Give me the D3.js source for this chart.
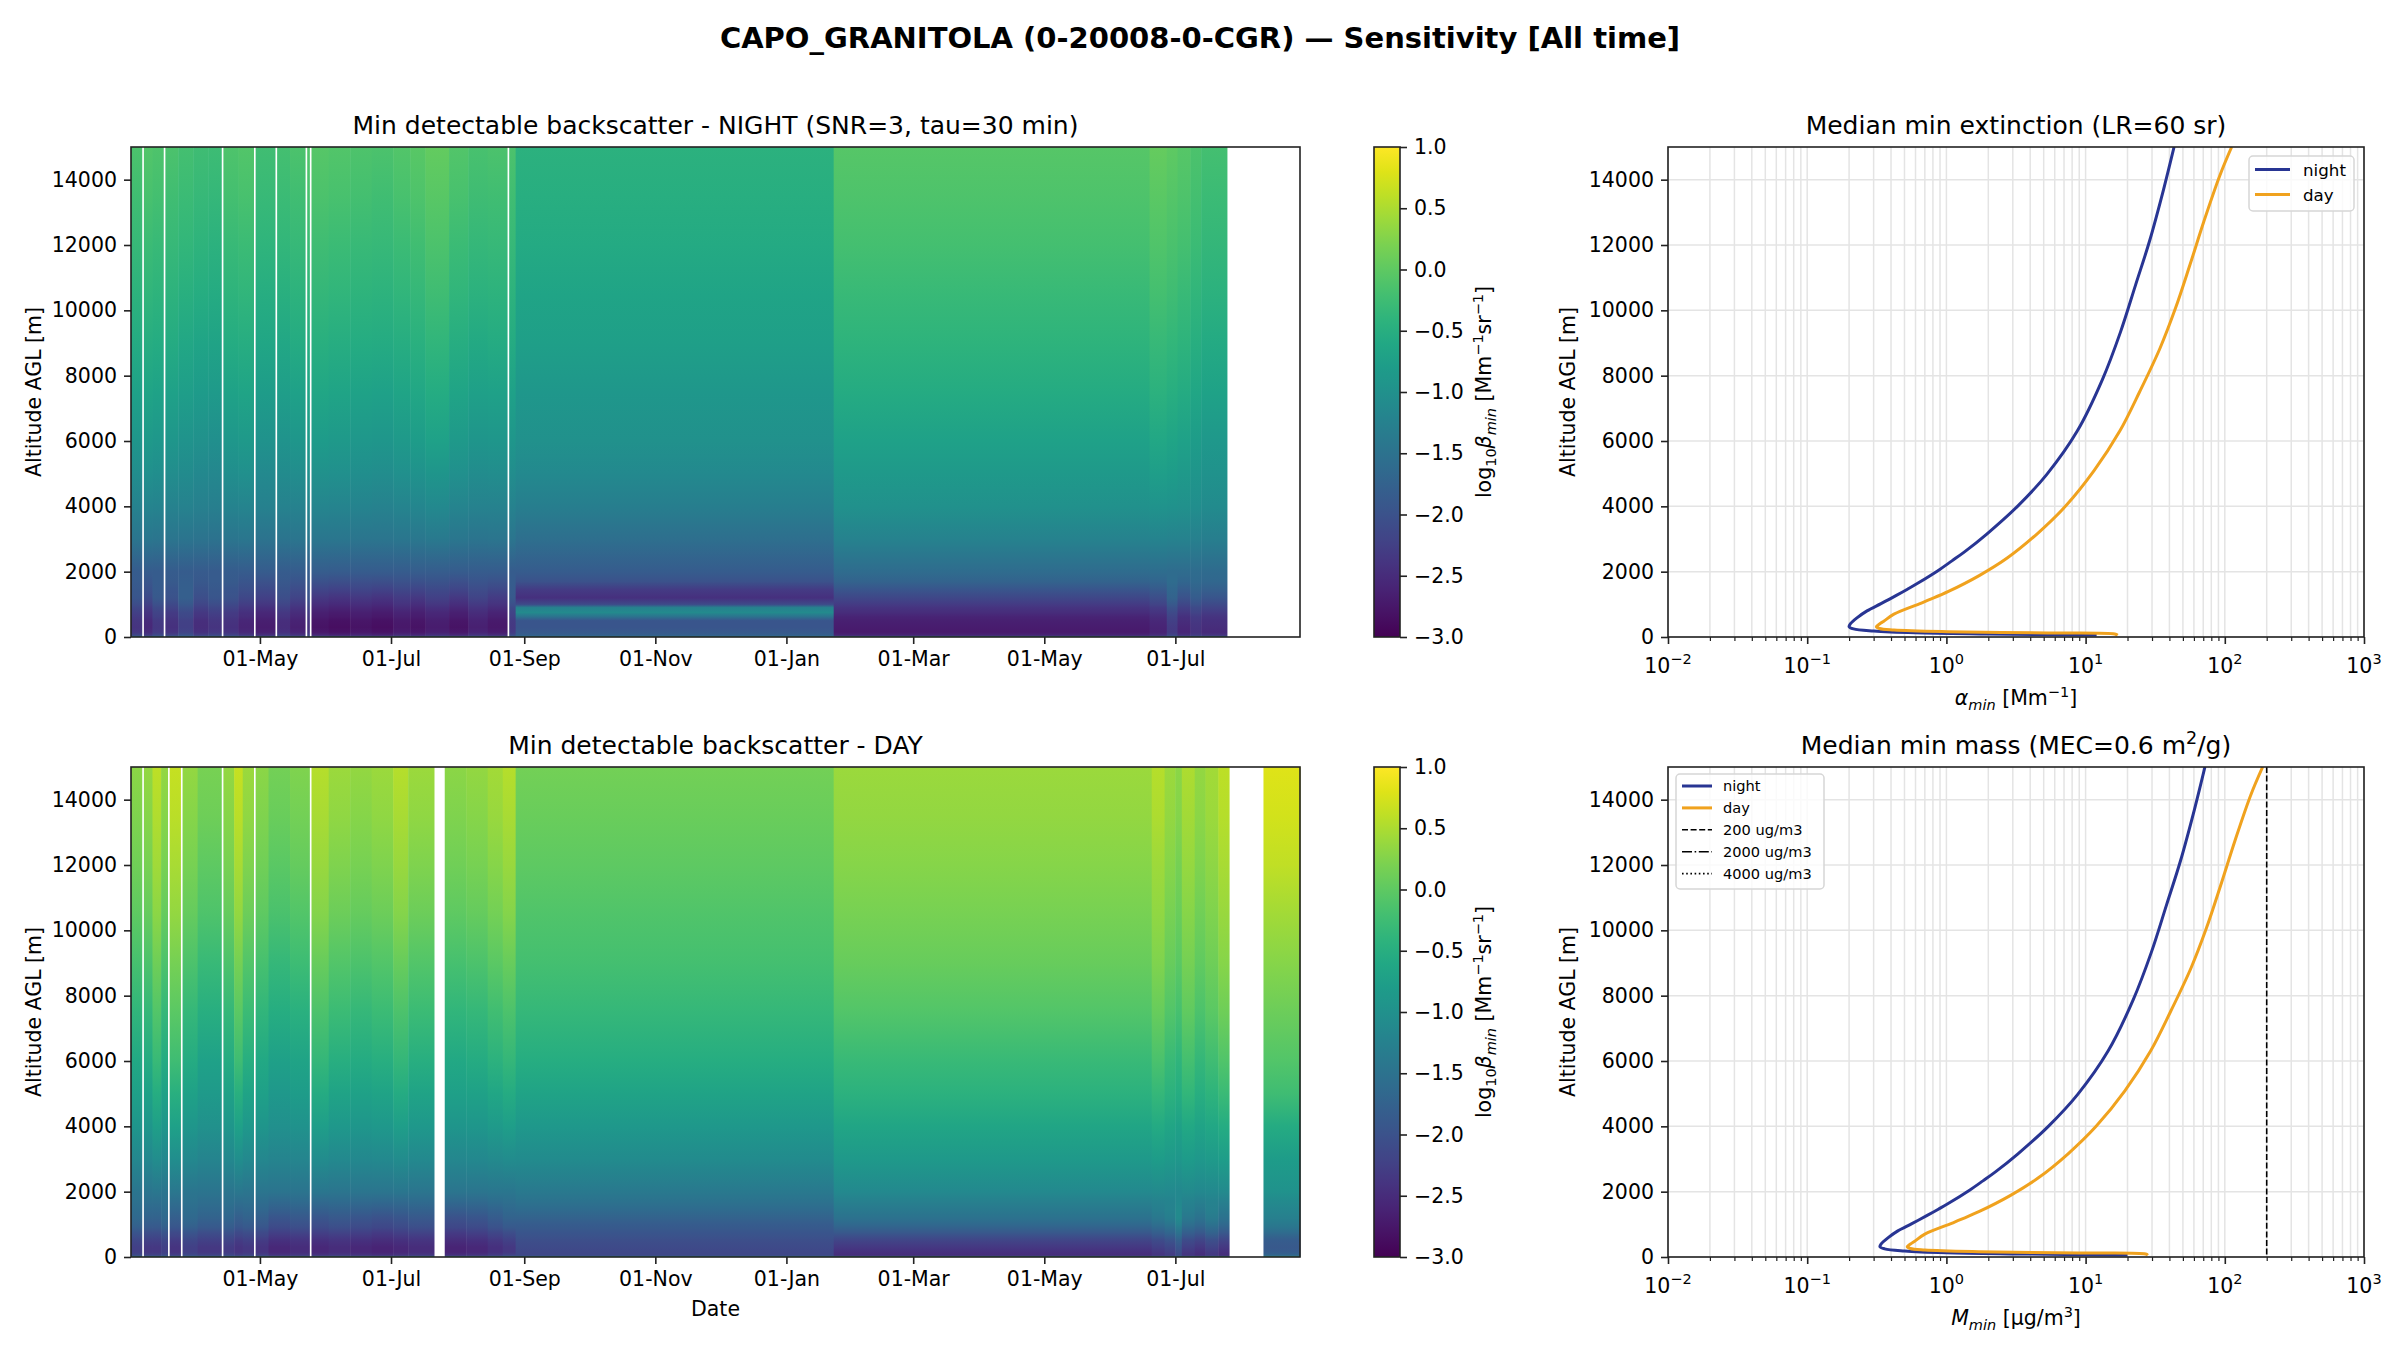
<!DOCTYPE html>
<html>
<head>
<meta charset="utf-8">
<script src="https://cdn.jsdelivr.net/npm/d3@7"></script>
<style>
  body { margin: 0; background: #fff; }
  svg { font-family: "DejaVu Sans", sans-serif; }
</style>
</head>
<body>
<div id="chart"></div>
<script>
// ---- data ----
var dateStart = "2024-03-02", dateEnd = "2025-08-28";

// altitude levels [m] at which the log10(beta_min) profiles were read
var altLevels = [0, 50, 150, 300, 500, 620, 750, 900, 1000, 1200, 1450, 1700, 2000,
                 3000, 4000, 5000, 6000, 7500, 9000, 10500, 12000, 13500, 15000];

// night profiles: A = Mar-Aug 2024, B = Sep 2024-Jan 2025, C = Jan-Jul 2025
var nightA = [-0.9, -2.5, -2.7, -2.75, -2.72, -2.65, -2.6, -2.5, -2.42, -2.3, -2.15, -2.0, -1.85,
              -1.45, -1.22, -1.05, -0.9, -0.72, -0.56, -0.43, -0.32, -0.22, -0.14];
var nightB = [-0.9, -1.8, -1.9, -1.95, -1.95, -1.5, -1.1, -1.25, -2.1, -2.45, -2.3, -2.0, -1.85,
              -1.55, -1.3, -1.12, -1.0, -0.88, -0.76, -0.66, -0.57, -0.5, -0.45];
var nightC = [-0.9, -2.6, -2.72, -2.7, -2.65, -2.6, -2.5, -2.4, -2.3, -2.15, -1.95, -1.75, -1.6,
              -1.25, -1.0, -0.85, -0.72, -0.55, -0.42, -0.3, -0.2, -0.12, -0.05];
// day profiles: A, B, C as above, D = Aug 2025
var dayA = [-0.6, -2.3, -2.45, -2.45, -2.35, -2.25, -2.15, -2.0, -1.95, -1.85, -1.72, -1.6, -1.45,
            -1.15, -0.92, -0.75, -0.6, -0.38, -0.18, 0.0, 0.13, 0.23, 0.3];
var dayB = [-0.8, -2.15, -2.15, -2.1, -2.05, -2.0, -1.95, -1.88, -1.85, -1.75, -1.62, -1.5, -1.38,
            -1.08, -0.86, -0.68, -0.52, -0.33, -0.2, -0.1, 0.0, 0.08, 0.15];
var dayC = [-0.7, -2.5, -2.45, -2.35, -2.2, -2.05, -1.9, -1.75, -1.65, -1.5, -1.38, -1.28, -1.12,
            -0.85, -0.65, -0.45, -0.3, -0.08, 0.07, 0.18, 0.27, 0.35, 0.4];
var dayD = [-0.3, -1.7, -1.85, -1.9, -1.85, -1.75, -1.6, -1.45, -1.38, -1.28, -1.18, -1.1, -0.98,
            -0.8, -0.55, -0.25, -0.08, 0.1, 0.28, 0.45, 0.62, 0.72, 0.8];

// time bins: [start, end, profile, shift aloft, shift near ground]; missing days are left out
var nightBins = [
  ["2024-03-02", "2024-03-07", "A", 0.0, 0.35],
  ["2024-03-08", "2024-03-12", "A", 0.05, 0.2],
  ["2024-03-12", "2024-03-17", "A", 0.02, 0.4],
  ["2024-03-18", "2024-03-24", "A", 0.0, 0.3],
  ["2024-03-24", "2024-03-31", "A", -0.05, 0.5],
  ["2024-03-31", "2024-04-07", "A", -0.1, 0.25],
  ["2024-04-07", "2024-04-13", "A", -0.12, 0.35],
  ["2024-04-14", "2024-04-21", "A", 0.02, 0.3],
  ["2024-04-21", "2024-04-28", "A", 0.05, 0.15],
  ["2024-04-29", "2024-05-08", "A", -0.08, 0.05],
  ["2024-05-09", "2024-05-15", "A", -0.05, 0.25],
  ["2024-05-15", "2024-05-22", "A", 0.0, 0.1],
  ["2024-05-23", "2024-05-24", "A", 0.05, 0.3],
  ["2024-05-25", "2024-06-02", "A", 0.08, -0.05],
  ["2024-06-02", "2024-06-12", "A", 0.05, -0.1],
  ["2024-06-12", "2024-06-22", "A", 0.02, -0.05],
  ["2024-06-22", "2024-07-02", "A", 0.0, -0.1],
  ["2024-07-02", "2024-07-10", "A", 0.05, 0.0],
  ["2024-07-10", "2024-07-17", "A", 0.1, -0.05],
  ["2024-07-17", "2024-07-28", "A", 0.18, 0.05],
  ["2024-07-28", "2024-08-06", "A", 0.05, -0.05],
  ["2024-08-06", "2024-08-15", "A", -0.02, 0.1],
  ["2024-08-15", "2024-08-24", "A", 0.0, 0.0],
  ["2024-08-25", "2024-08-28", "A", 0.0, 0.4],
  ["2024-08-28", "2025-01-23", "B", 0.0, 0.0],
  ["2025-01-23", "2025-06-19", "C", 0.0, 0.0],
  ["2025-06-19", "2025-06-27", "C", 0.1, 0.1],
  ["2025-06-27", "2025-07-02", "C", 0.05, 0.4],
  ["2025-07-02", "2025-07-08", "C", 0.0, 0.15],
  ["2025-07-08", "2025-07-13", "C", -0.08, 0.3],
  ["2025-07-13", "2025-07-25", "C", -0.15, 0.2]
];
var dayBins = [
  ["2024-03-02", "2024-03-07", "A", 0.0, 0.2],
  ["2024-03-08", "2024-03-12", "A", 0.05, 0.1],
  ["2024-03-12", "2024-03-16", "A", 0.3, 0.1],
  ["2024-03-16", "2024-03-19", "A", 0.05, 0.2],
  ["2024-03-20", "2024-03-25", "A", 0.35, 0.05],
  ["2024-03-26", "2024-04-02", "A", 0.05, 0.2],
  ["2024-04-02", "2024-04-13", "A", -0.12, 0.1],
  ["2024-04-14", "2024-04-19", "A", 0.05, 0.15],
  ["2024-04-19", "2024-04-23", "A", 0.35, 0.05],
  ["2024-04-23", "2024-04-28", "A", 0.1, 0.1],
  ["2024-04-29", "2024-05-05", "A", 0.0, 0.05],
  ["2024-05-05", "2024-05-15", "A", -0.15, -0.1],
  ["2024-05-15", "2024-05-24", "A", -0.08, -0.05],
  ["2024-05-25", "2024-06-02", "A", 0.25, -0.1],
  ["2024-06-02", "2024-06-12", "A", 0.1, -0.05],
  ["2024-06-12", "2024-06-22", "A", 0.05, -0.1],
  ["2024-06-22", "2024-07-02", "A", 0.1, -0.15],
  ["2024-07-02", "2024-07-09", "A", 0.25, -0.1],
  ["2024-07-09", "2024-07-21", "A", 0.1, -0.05],
  ["2024-07-26", "2024-08-05", "A", 0.0, -0.15],
  ["2024-08-05", "2024-08-15", "A", 0.05, -0.1],
  ["2024-08-15", "2024-08-22", "A", 0.15, 0.0],
  ["2024-08-22", "2024-08-28", "A", 0.25, 0.1],
  ["2024-08-28", "2025-01-23", "B", 0.0, 0.0],
  ["2025-01-23", "2025-06-20", "C", 0.0, 0.0],
  ["2025-06-20", "2025-06-26", "C", 0.15, 0.1],
  ["2025-06-26", "2025-07-01", "C", 0.0, 0.2],
  ["2025-07-01", "2025-07-04", "C", -0.1, 0.4],
  ["2025-07-04", "2025-07-10", "C", 0.1, 0.1],
  ["2025-07-10", "2025-07-15", "C", -0.05, 0.0],
  ["2025-07-15", "2025-07-21", "C", 0.05, 0.15],
  ["2025-07-21", "2025-07-26", "C", 0.2, 0.0],
  ["2025-08-11", "2025-08-28", "D", 0.0, 0.0]
];

// median profiles (altitude [m] / value)
var extNightAlt = [60, 95, 130, 185, 250, 316, 400, 593, 800, 1022, 1273, 1463, 1636, 2061, 2331,
                   2606, 3152, 4000, 4970, 6303, 7879, 9333, 10788, 12121, 13697, 15000];
var extNightVal = [12, 2.0, 0.6, 0.3, 0.215, 0.2, 0.204, 0.229, 0.269, 0.339, 0.437, 0.525, 0.617, 0.891, 1.096,
                   1.349, 1.95, 3.24, 5.25, 8.71, 13.2, 17.8, 22.9, 28.8, 36.3, 43.2];
var extDayAlt = [55, 92, 123, 163, 214, 260, 316, 400, 485, 700, 1030, 1156, 1394, 1879, 2424,
                 3152, 4000, 5091, 6303, 7515, 8848, 10061, 11394, 12727, 14121, 15000];
var extDayVal = [17, 16.2, 5.37, 1.02, 0.42, 0.33, 0.314, 0.331, 0.355, 0.42, 0.653, 0.771, 1.035, 1.72, 2.75,
                 4.47, 7.16, 11.5, 17.6, 24.5, 34.3, 44.2, 56.2, 70.8, 92, 112];
var massNightVal = [20, 3.3, 1.0, 0.5, 0.36, 0.333, 0.34, 0.382, 0.448, 0.565, 0.728, 0.875, 1.03, 1.485, 1.83,
                    2.25, 3.25, 5.4, 8.75, 14.5, 22.0, 29.7, 38.2, 48.0, 60.5, 72];
var massDayVal = [28, 27, 8.95, 1.7, 0.7, 0.55, 0.523, 0.552, 0.592, 0.7, 1.09, 1.285, 1.725, 2.87, 4.58,
                  7.45, 11.9, 19.2, 29.3, 40.8, 57.2, 73.7, 93.7, 118, 153, 187];
var massRefVal = [200, 2000, 4000];
var massRefName = ["200 ug/m3", "2000 ug/m3", "4000 ug/m3"];

var altTicks = [0, 2000, 4000, 6000, 8000, 10000, 12000, 14000];
var cbarTicks = [-3, -2.5, -2, -1.5, -1, -0.5, 0, 0.5, 1];
var logTicks = [1e-2, 1e-1, 1e0, 1e1, 1e2, 1e3];
var logExp = ["\u22122", "\u22121", "0", "1", "2", "3"];

// ---- layout ----
var W = 2400, H = 1350;
var FONT = "DejaVu Sans";
var heatL = 131, heatR = 1300, cbL = 1374, cbR = 1400, lineL = 1668, lineR = 2364;
var rows = [{top: 147, bottom: 637}, {top: 767, bottom: 1257}];
var nightColor = "#283593", dayColor = "#f0a21e";

var profiles = {night: {A: nightA, B: nightB, C: nightC}, day: {A: dayA, B: dayB, C: dayC, D: dayD}};

// how much of a bin's shift reaches each altitude (smooth hand-over near 1.5-2 km)
var upWeight = d3.scaleLinear().domain([1500, 6000]).range([0, 1]).clamp(true);
var lowWeight = d3.scaleLinear().domain([1200, 2000]).range([1, 0]).clamp(true);

var svg = d3.select("#chart").append("svg")
  .attr("width", W).attr("height", H)
  .attr("font-family", FONT);
var defs = svg.append("defs");

var parse = d3.utcParse("%Y-%m-%d");
var color = d3.scaleSequential(d3.interpolateViridis).domain([-3, 1]).clamp(true);
var xTime = d3.scaleUtc().domain([parse(dateStart), parse(dateEnd)]).range([heatL, heatR]);

function styleAxis(g, size) {
  g.attr("font-family", FONT).attr("font-size", size || 20.5);
  g.select(".domain").remove();
  g.selectAll(".tick line").attr("stroke", "#222").attr("stroke-width", 1.6);
  g.selectAll(".tick text").attr("fill", "#000");
}

svg.append("text")
  .attr("x", W / 2).attr("y", 48)
  .attr("text-anchor", "middle")
  .attr("font-size", 29).attr("font-weight", "bold")
  .text("CAPO_GRANITOLA (0-20008-0-CGR) \u2014 Sensitivity [All time]");

// rotated label helper
function yLabel(x, yc, txt) {
  svg.append("text")
    .attr("transform", "translate(" + x + "," + yc + ") rotate(-90)")
    .attr("text-anchor", "middle").attr("font-size", 20.5)
    .text(txt);
}

// ---- heatmaps ----
function drawHeat(kind, bins, row, title, withDate) {
  var yAlt = d3.scaleLinear().domain([0, 15000]).range([row.bottom, row.top]);
  var g = svg.append("g");

  bins.forEach(function(b, i) {
    var prof = profiles[kind][b[2]];
    var gid = "grad-" + kind + "-" + i;
    var grad = defs.append("linearGradient").attr("id", gid)
      .attr("x1", 0).attr("y1", 1).attr("x2", 0).attr("y2", 0);
    altLevels.forEach(function(a, k) {
      var shift = a < 50 ? 0 : b[3] * upWeight(a) + b[4] * lowWeight(a);
      grad.append("stop")
        .attr("offset", a / 15000)
        .attr("stop-color", color(prof[k] + shift));
    });
    var x0 = xTime(parse(b[0])), x1 = xTime(parse(b[1]));
    g.append("rect")
      .attr("x", x0).attr("y", row.top)
      .attr("width", x1 - x0 + 0.5).attr("height", row.bottom - row.top)
      .attr("fill", "url(#" + gid + ")");
  });

  var xa = svg.append("g").attr("transform", "translate(0," + row.bottom + ")")
    .call(d3.axisBottom(xTime).ticks(d3.utcMonth.every(2)).tickFormat(d3.utcFormat("%d-%b"))
      .tickSize(7).tickPadding(7));
  styleAxis(xa);
  var ya = svg.append("g").attr("transform", "translate(" + heatL + ",0)")
    .call(d3.axisLeft(yAlt).tickValues(altTicks).tickFormat(d3.format("d")).tickSize(7).tickPadding(7));
  styleAxis(ya);

  svg.append("rect").attr("x", heatL).attr("y", row.top)
    .attr("width", heatR - heatL).attr("height", row.bottom - row.top)
    .attr("fill", "none").attr("stroke", "#222").attr("stroke-width", 1.6);

  svg.append("text").attr("x", (heatL + heatR) / 2).attr("y", row.top - 13)
    .attr("text-anchor", "middle").attr("font-size", 25).text(title);
  yLabel(41, (row.top + row.bottom) / 2, "Altitude AGL [m]");
  if (withDate) {
    svg.append("text").attr("x", (heatL + heatR) / 2).attr("y", row.bottom + 59)
      .attr("text-anchor", "middle").attr("font-size", 20.5).text("Date");
  }

  // colorbar
  var cScale = d3.scaleLinear().domain([-3, 1]).range([row.bottom, row.top]);
  var cid = "cbar-" + kind;
  var cg = defs.append("linearGradient").attr("id", cid)
    .attr("x1", 0).attr("y1", 1).attr("x2", 0).attr("y2", 0);
  d3.range(0, 1.0001, 0.05).forEach(function(t) {
    cg.append("stop").attr("offset", t).attr("stop-color", d3.interpolateViridis(t));
  });
  svg.append("rect").attr("x", cbL).attr("y", row.top)
    .attr("width", cbR - cbL).attr("height", row.bottom - row.top)
    .attr("fill", "url(#" + cid + ")")
    .attr("stroke", "#222").attr("stroke-width", 1.6);
  var ca = svg.append("g").attr("transform", "translate(" + cbR + ",0)")
    .call(d3.axisRight(cScale).tickValues(cbarTicks).tickFormat(d3.format(".1f")).tickSize(7).tickPadding(7));
  styleAxis(ca);

  var lab = svg.append("text")
    .attr("transform", "translate(1491," + (row.top + row.bottom) / 2 + ") rotate(-90)")
    .attr("text-anchor", "middle").attr("font-size", 20.5);
  lab.append("tspan").text("log");
  lab.append("tspan").attr("font-size", 14.5).attr("dy", 5).text("10");
  lab.append("tspan").attr("dy", -5).attr("font-style", "italic").text("\u03b2");
  lab.append("tspan").attr("font-size", 14.5).attr("dy", 5).attr("font-style", "italic").text("min");
  lab.append("tspan").attr("dy", -5).text(" [Mm");
  lab.append("tspan").attr("font-size", 14.5).attr("dy", -8).text("\u22121");
  lab.append("tspan").attr("dy", 8).text("sr");
  lab.append("tspan").attr("font-size", 14.5).attr("dy", -8).text("\u22121");
  lab.append("tspan").attr("dy", 8).text("]");
}

drawHeat("night", nightBins, rows[0], "Min detectable backscatter - NIGHT (SNR=3, tau=30 min)", false);
drawHeat("day", dayBins, rows[1], "Min detectable backscatter - DAY", true);

// ---- profile panels ----
function drawProfile(row, idx, series, title, xlabelParts, legendItems, refLines, legendBox) {
  var xLog = d3.scaleLog().domain([1e-2, 1e3]).range([lineL, lineR]);
  var yAlt = d3.scaleLinear().domain([0, 15000]).range([row.bottom, row.top]);
  var minor = [];
  [1e-2, 1e-1, 1e0, 1e1, 1e2].forEach(function(d) {
    for (var m = 2; m <= 9; m++) minor.push(d * m);
  });

  var grid = svg.append("g").attr("stroke", "#e4e4e4").attr("stroke-width", 1.5);
  minor.concat(logTicks).forEach(function(v) {
    grid.append("line").attr("x1", xLog(v)).attr("x2", xLog(v))
      .attr("y1", row.top).attr("y2", row.bottom);
  });
  altTicks.forEach(function(v) {
    grid.append("line").attr("x1", lineL).attr("x2", lineR)
      .attr("y1", yAlt(v)).attr("y2", yAlt(v));
  });

  var clipId = "clip-prof-" + idx;
  defs.append("clipPath").attr("id", clipId).append("rect")
    .attr("x", lineL).attr("y", row.top).attr("width", lineR - lineL).attr("height", row.bottom - row.top);
  var plot = svg.append("g").attr("clip-path", "url(#" + clipId + ")");

  refLines.forEach(function(r) {
    plot.append("line").attr("x1", xLog(r.v)).attr("x2", xLog(r.v))
      .attr("y1", row.top).attr("y2", row.bottom)
      .attr("stroke", "#000").attr("stroke-width", 1.6).attr("stroke-dasharray", r.dash);
  });

  var line = d3.line().x(function(d) { return xLog(d[1]); })
    .y(function(d) { return yAlt(d[0]); })
    .curve(d3.curveCatmullRom.alpha(0.5));
  series.forEach(function(s) {
    plot.append("path").datum(d3.zip(s.alt, s.val))
      .attr("d", line).attr("fill", "none")
      .attr("stroke", s.color).attr("stroke-width", 3).attr("stroke-linejoin", "round");
  });

  var xa = svg.append("g").attr("transform", "translate(0," + row.bottom + ")")
    .call(d3.axisBottom(xLog).tickValues(logTicks).tickFormat("").tickSize(7));
  styleAxis(xa);
  var xm = svg.append("g").attr("transform", "translate(0," + row.bottom + ")")
    .call(d3.axisBottom(xLog).tickValues(minor).tickFormat("").tickSize(4));
  styleAxis(xm);
  xm.selectAll(".tick line").attr("stroke-width", 1.2);
  logTicks.forEach(function(v, i) {
    var t = svg.append("text").attr("x", xLog(v)).attr("y", row.bottom + 36)
      .attr("text-anchor", "middle").attr("font-size", 20.5);
    t.append("tspan").text("10");
    t.append("tspan").attr("font-size", 14.5).attr("dy", -9).text(logExp[i]);
  });
  var ya = svg.append("g").attr("transform", "translate(" + lineL + ",0)")
    .call(d3.axisLeft(yAlt).tickValues(altTicks).tickFormat(d3.format("d")).tickSize(7).tickPadding(7));
  styleAxis(ya);

  svg.append("rect").attr("x", lineL).attr("y", row.top)
    .attr("width", lineR - lineL).attr("height", row.bottom - row.top)
    .attr("fill", "none").attr("stroke", "#222").attr("stroke-width", 1.6);

  var tt = svg.append("text").attr("x", (lineL + lineR) / 2).attr("y", row.top - 13)
    .attr("text-anchor", "middle").attr("font-size", 25);
  title.forEach(function(p) {
    var sp = tt.append("tspan").text(p.t);
    if (p.dy) sp.attr("dy", p.dy);
    if (p.size) sp.attr("font-size", p.size);
  });
  yLabel(1575, (row.top + row.bottom) / 2, "Altitude AGL [m]");

  var xl = svg.append("text").attr("x", (lineL + lineR) / 2).attr("y", row.bottom + 68)
    .attr("text-anchor", "middle").attr("font-size", 20.5);
  xlabelParts.forEach(function(p) {
    var sp = xl.append("tspan").text(p.t);
    if (p.dy) sp.attr("dy", p.dy);
    if (p.size) sp.attr("font-size", p.size);
    if (p.it) sp.attr("font-style", "italic");
  });

  // legend
  var lb = legendBox;
  var lg = svg.append("g");
  lg.append("rect").attr("x", lb.x).attr("y", lb.y).attr("width", lb.w).attr("height", lb.h)
    .attr("rx", 4).attr("fill", "#fff").attr("fill-opacity", 0.8)
    .attr("stroke", "#d6d6d6").attr("stroke-width", 1.5);
  legendItems.forEach(function(it, i) {
    var yy = lb.y + lb.first + i * lb.step;
    lg.append("line").attr("x1", lb.x + 6).attr("x2", lb.x + 6 + lb.handle)
      .attr("y1", yy).attr("y2", yy)
      .attr("stroke", it.color).attr("stroke-width", it.width)
      .attr("stroke-dasharray", it.dash || null);
    lg.append("text").attr("x", lb.x + 6 + lb.handle + lb.gap).attr("y", yy + lb.size * 0.36)
      .attr("font-size", lb.size).text(it.label);
  });
}

drawProfile(rows[0], 0,
  [{alt: extNightAlt, val: extNightVal, color: nightColor},
   {alt: extDayAlt, val: extDayVal, color: dayColor}],
  [{t: "Median min extinction (LR=60 sr)"}],
  [{t: "\u03b1", it: true}, {t: "min", it: true, size: 14.5, dy: 5}, {t: " [Mm", dy: -5},
   {t: "\u22121", size: 14.5, dy: -8}, {t: "]", dy: 8}],
  [{label: "night", color: nightColor, width: 3}, {label: "day", color: dayColor, width: 3}],
  [],
  {x: 2249, y: 156, w: 105, h: 55, first: 13.5, step: 25, handle: 35, gap: 13, size: 16.7});

drawProfile(rows[1], 1,
  [{alt: extNightAlt, val: massNightVal, color: nightColor},
   {alt: extDayAlt, val: massDayVal, color: dayColor}],
  [{t: "Median min mass (MEC=0.6 m"}, {t: "2", size: 17.5, dy: -10}, {t: "/g)", dy: 10}],
  [{t: "M", it: true}, {t: "min", it: true, size: 14.5, dy: 5}, {t: " [\u03bcg/m", dy: -5},
   {t: "3", size: 14.5, dy: -8}, {t: "]", dy: 8}],
  [{label: "night", color: nightColor, width: 3}, {label: "day", color: dayColor, width: 3},
   {label: massRefName[0], color: "#000", width: 1.6, dash: "6,2.6"},
   {label: massRefName[1], color: "#000", width: 1.6, dash: "10,2.6,1.6,2.6"},
   {label: massRefName[2], color: "#000", width: 1.6, dash: "1.6,2.6"}],
  [{v: massRefVal[0], dash: "6,2.6"}, {v: massRefVal[1], dash: "10,2.6,1.6,2.6"}, {v: massRefVal[2], dash: "1.6,2.6"}],
  {x: 1676, y: 774, w: 148, h: 115, first: 12, step: 21.9, handle: 30, gap: 11, size: 14.6});
</script>
</body>
</html>
